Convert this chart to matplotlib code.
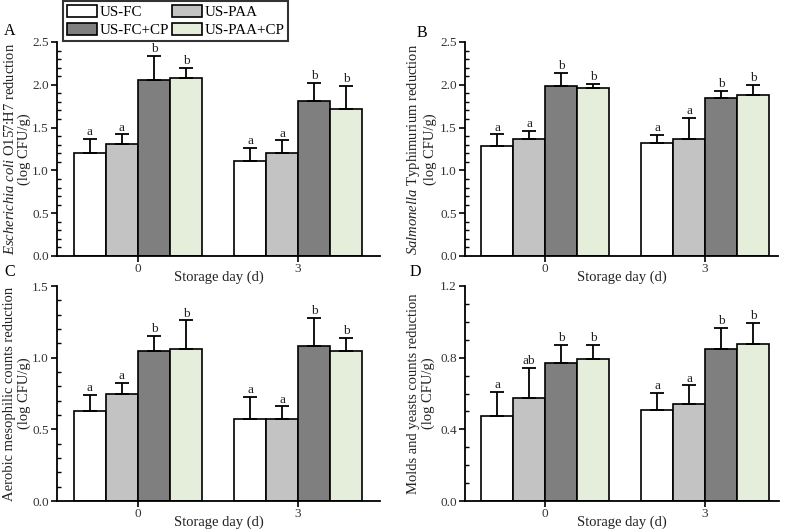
import matplotlib
matplotlib.use("Agg")
import matplotlib.pyplot as plt
from matplotlib.patches import Patch
from matplotlib.ticker import MultipleLocator
import numpy as np

plt.rcParams['font.family'] = ['Liberation Serif', 'DejaVu Serif']
plt.rcParams['mathtext.fontset'] = 'custom'
plt.rcParams['mathtext.rm'] = 'Liberation Serif'
plt.rcParams['mathtext.it'] = 'Liberation Serif:italic'

days = ["0", "3"]
treatments = ["US-FC", "US-PAA", "US-FC+CP", "US-PAA+CP"]
colors = ["#ffffff", "#c3c3c3", "#7f7f7f", "#e5eddb"]

# values [treatment][day], error (upper) [treatment][day], letters
A_vals = [[1.20, 1.11], [1.31, 1.20], [2.06, 1.81], [2.08, 1.72]]
A_errs = [[0.17, 0.15], [0.11, 0.15], [0.28, 0.21], [0.12, 0.27]]
A_lets = [["a", "a"], ["a", "a"], ["b", "b"], ["b", "b"]]

B_vals = [[1.28, 1.32], [1.37, 1.37], [1.99, 1.84], [1.96, 1.88]]
B_errs = [[0.14, 0.09], [0.09, 0.24], [0.15, 0.09], [0.05, 0.12]]
B_lets = [["a", "a"], ["a", "a"], ["b", "b"], ["b", "b"]]

C_vals = [[0.63, 0.575], [0.745, 0.57], [1.05, 1.08], [1.06, 1.05]]
C_errs = [[0.11, 0.15], [0.08, 0.09], [0.10, 0.20], [0.20, 0.085]]
C_lets = [["a", "a"], ["a", "a"], ["b", "b"], ["b", "b"]]

D_vals = [[0.475, 0.51], [0.575, 0.54], [0.77, 0.846], [0.79, 0.878]]
D_errs = [[0.135, 0.095], [0.17, 0.105], [0.10, 0.12], [0.08, 0.117]]
D_lets = [["a", "a"], ["ab", "a"], ["b", "b"], ["b", "b"]]

ylabels = [
    r"$\mathit{Escherichia\ coli}$ O157:H7 reduction" + "\n(log CFU/g)",
    r"$\mathit{Salmonella}$ Typhimurium reduction" + "\n(log CFU/g)",
    "Aerobic mesophilic counts reduction\n(log CFU/g)",
    "Molds and yeasts counts reduction\n(log CFU/g)",
]
panel_letters = ["A", "B", "C", "D"]

fig = plt.figure(figsize=(7.87, 5.29), dpi=100)
W, H = 787, 529

def ax_px(l, t, r, b):
    return fig.add_axes([l / W, 1 - b / H, (r - l) / W, (b - t) / H])

boxes = [(57, 42, 380, 256), (465, 42, 778, 256),
         (57, 286, 380, 501), (465, 286, 779, 501)]
axes = [ax_px(*b) for b in boxes]
xlims = [(-0.506, 1.512), (-0.5, 1.456), (-0.506, 1.512), (-0.5, 1.462)]
ylims = [(0, 2.5), (0, 2.5), (0, 1.5), (0, 1.2)]
majors = [0.5, 0.5, 0.5, 0.4]
label_x = [17, 421, 17, 421]
data = [(A_vals, A_errs, A_lets), (B_vals, B_errs, B_lets),
        (C_vals, C_errs, C_lets), (D_vals, D_errs, D_lets)]

x = np.arange(len(days))
bw = 0.2
offsets = [-1.5, -0.5, 0.5, 1.5]

for i, ax in enumerate(axes):
    vals, errs, lets = data[i]
    ylo, yhi = ylims[i]
    for t in range(4):
        xs = x + offsets[t] * bw
        ax.bar(xs, vals[t], width=bw, color=colors[t], edgecolor="black",
               linewidth=1.2, zorder=2)
        ax.errorbar(xs, vals[t], yerr=[np.zeros(2), errs[t]], fmt="none",
                    ecolor="black", elinewidth=1.3, capsize=5, capthick=1.3,
                    zorder=3)
        for k in range(2):
            ax.text(xs[k], vals[t][k] + errs[t][k] + (yhi - ylo) * 0.004,
                    lets[t][k], ha="center", va="bottom", fontsize=9.5,
                    color="#222222")
    ax.set_xlim(*xlims[i])
    ax.set_ylim(ylo, yhi)
    ax.set_xticks(x)
    ax.set_xticklabels(days, fontsize=9.5)
    ax.yaxis.set_major_locator(MultipleLocator(majors[i]))
    ax.yaxis.set_minor_locator(MultipleLocator(0.1))
    ax.set_yticklabels([f"{v:.1f}" for v in ax.get_yticks()], fontsize=9.5)
    ax.tick_params(axis="y", which="major", direction="out", length=4, width=1.2, pad=2, labelcolor="#333333")
    ax.tick_params(axis="y", which="minor", direction="in", length=3, width=1.0)
    ax.tick_params(axis="x", which="major", direction="out", length=4, width=1.2, pad=1, labelcolor="#333333")
    for s in ["top", "right"]:
        ax.spines[s].set_visible(False)
    for s in ["left", "bottom"]:
        ax.spines[s].set_linewidth(1.3)
    ax.set_xlabel("Storage day (d)", fontsize=10.5, labelpad=-3, color="#222222")
    l, t, r, b = boxes[i]
    fig.text(label_x[i] / W, 1 - ((t + b) / 2) / H, ylabels[i], rotation=90,
             ha="center", va="center", fontsize=10.5, color="#222222",
             linespacing=1.1, multialignment="center")

fig.text(4 / W, 1 - 31 / H, "A", fontsize=11.5, va="center", ha="left")
fig.text(422 / W, 1 - 33 / H, "B", fontsize=11.5, va="center", ha="center")
fig.text(4 / W, 1 - 272 / H, "C", fontsize=11.5, va="center", ha="left")
fig.text(415 / W, 1 - 272 / H, "D", fontsize=11.5, va="center", ha="center")

order = [0, 2, 1, 3]
handles = [Patch(facecolor=colors[t], edgecolor="black", linewidth=1.2, label=treatments[t]) for t in order]
leg = fig.legend(handles=handles, ncol=2, loc="upper left",
                 bbox_to_anchor=(63 / W, 1 - 1 / H), fontsize=10.8,
                 frameon=True, fancybox=False, edgecolor="black",
                 handlelength=2.0, handleheight=0.85, handletextpad=0.2,
                 columnspacing=0.15, labelspacing=0.25, borderpad=0.25,
                 borderaxespad=0)
leg.get_frame().set_linewidth(1.5)

fig.savefig("out.png", dpi=100)
